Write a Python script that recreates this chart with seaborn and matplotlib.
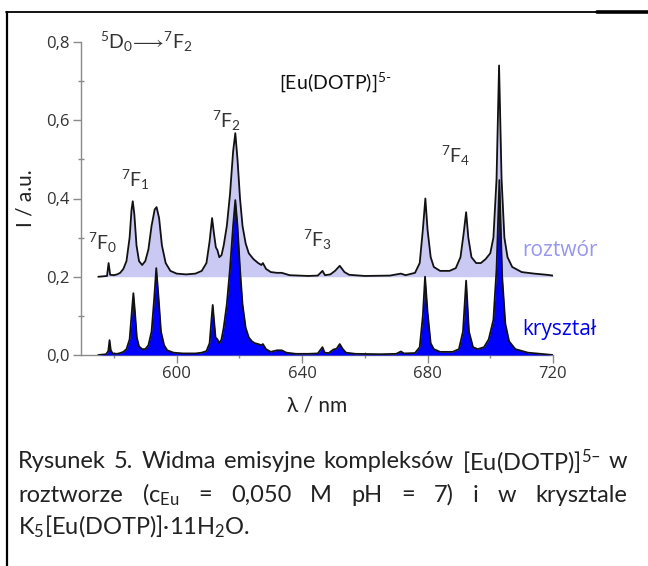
import numpy as np
import matplotlib
matplotlib.use("Agg")
import matplotlib.pyplot as plt
import seaborn as sns

# emission spectrum: crystal (baseline 0)
crystal_wl = [575, 577.5, 578.2, 578.6, 579.0, 579.6, 581, 582, 583, 584, 585, 585.7, 586.2, 586.7,
              587.3, 588, 589, 590, 591, 592, 592.8, 593.5, 594.2, 595, 596, 597, 599, 602, 606,
              608, 609.5, 610.5, 611.2, 611.5, 611.9, 612.4, 613, 613.6, 614.3, 615, 616, 617,
              618, 618.7, 619.4, 620.2, 621, 622, 623, 624, 625, 626, 627, 627.5, 628.5, 630,
              632, 633.5, 635, 638, 642, 645, 646.5, 647.2, 648.5, 650, 651, 652, 653, 654, 657,
              665, 670, 671.5, 672.5, 676, 677.5, 678.5, 679.2, 680, 681, 682, 684, 688, 690,
              691.3, 692.3, 693.2, 694.5, 696, 698, 699.5, 701, 702, 702.9, 703.8, 704.8, 706,
              708, 712, 716, 720]
crystal_int = [0.0, 0.002, 0.01, 0.038, 0.012, 0.004, 0.003, 0.005, 0.008, 0.015, 0.04, 0.11, 0.158,
               0.11, 0.045, 0.022, 0.015, 0.015, 0.025, 0.06, 0.14, 0.222, 0.15, 0.06, 0.025, 0.012,
               0.006, 0.004, 0.004, 0.006, 0.01, 0.03, 0.1, 0.128, 0.09, 0.045, 0.04, 0.03, 0.04,
               0.07, 0.13, 0.22, 0.33, 0.396, 0.33, 0.22, 0.13, 0.07, 0.045, 0.035, 0.03, 0.028,
               0.025, 0.028, 0.015, 0.008, 0.012, 0.012, 0.006, 0.003, 0.003, 0.004, 0.02, 0.006,
               0.005, 0.014, 0.016, 0.028, 0.015, 0.006, 0.003, 0.002, 0.003, 0.009, 0.004, 0.005,
               0.02, 0.1, 0.2, 0.11, 0.03, 0.015, 0.008, 0.008, 0.015, 0.06, 0.19, 0.06, 0.02,
               0.015, 0.02, 0.04, 0.09, 0.22, 0.447, 0.2, 0.08, 0.035, 0.015, 0.006, 0.003, 0.0]

# solution spectrum (drawn shifted up by 0.2)
solution_wl = [575, 577.8, 578.3, 578.8, 580, 581, 582, 583, 584, 585, 585.6, 586, 586.5, 587.2, 588,
               589, 590, 591, 592, 593, 593.6, 594.4, 595.3, 596.5, 598, 600, 603, 606, 608, 609.5,
               610.5, 611.3, 611.9, 612.5, 613, 613.6, 614.3, 615, 616, 617, 618, 618.7, 619.4,
               620.2, 621, 622, 623, 624.5, 626, 627, 627.5, 628.5, 630, 632, 633.5, 636, 642, 645,
               646.5, 647.3, 649, 650.5, 652, 653.5, 655, 660, 668, 671.5, 673, 676, 677.5, 678.5,
               679.3, 680, 681, 682, 684, 687, 689, 690.5, 691.5, 692.3, 693, 694, 695.5, 697,
               698.5, 700, 701, 702, 702.8, 703.6, 704.5, 705.5, 707, 710, 714, 718, 720]
solution_int = [0.0, 0.002, 0.035, 0.005, 0.004, 0.006, 0.01, 0.02, 0.04, 0.1, 0.17, 0.193, 0.16, 0.08,
                0.04, 0.03, 0.04, 0.07, 0.13, 0.172, 0.178, 0.15, 0.08, 0.035, 0.015, 0.008, 0.006,
                0.008, 0.015, 0.035, 0.09, 0.15, 0.11, 0.075, 0.068, 0.05, 0.055, 0.08, 0.13, 0.21,
                0.32, 0.367, 0.3, 0.2, 0.13, 0.085, 0.06, 0.045, 0.035, 0.03, 0.035, 0.02, 0.012,
                0.01, 0.01, 0.004, 0.002, 0.003, 0.015, 0.004, 0.006, 0.015, 0.028, 0.012, 0.005,
                0.002, 0.003, 0.008, 0.004, 0.01, 0.035, 0.12, 0.2, 0.12, 0.05, 0.025, 0.015, 0.015,
                0.022, 0.05, 0.11, 0.165, 0.1, 0.05, 0.035, 0.035, 0.045, 0.06, 0.1, 0.25, 0.54,
                0.25, 0.1, 0.05, 0.025, 0.012, 0.008, 0.005, 0.003]
solution_offset = 0.2

x_ticks = [600, 640, 680, 720]
x_minor = [580, 620, 660, 700]
y_ticks = [0.0, 0.2, 0.4, 0.6, 0.8]
y_tick_labels = ["0,0", "0,2", "0,4", "0,6", "0,8"]
y_minor = [0.1, 0.3, 0.5, 0.7]

peak_labels = [r"$^7$F$_0$", r"$^7$F$_1$", r"$^7$F$_2$", r"$^7$F$_3$", r"$^7$F$_4$"]
peak_label_pos = [(576.4, 0.286), (586.9, 0.447), (616.0, 0.598), (645.0, 0.294), (688.8, 0.51)]

sns.set_theme(style="white")
plt.rcParams["font.family"] = ["Lato", "DejaVu Sans"]
plt.rcParams["mathtext.fontset"] = "custom"
plt.rcParams["mathtext.rm"] = "Lato"
plt.rcParams["mathtext.it"] = "Lato:italic"
plt.rcParams["mathtext.bf"] = "Lato:bold"

W, H = 648, 566
fig = plt.figure(figsize=(W / 100, H / 100), dpi=100)
ax = fig.add_axes([81 / W, (H - 355) / H, 472 / W, 313 / H])

sol_y = np.array(solution_int) + solution_offset
ax.fill_between(solution_wl, solution_offset, sol_y, color="#c9c9f3", lw=0, zorder=1)
sns.lineplot(x=solution_wl, y=sol_y, ax=ax, color="#111111", lw=1.3, sort=False,
             estimator=None, zorder=2)
ax.fill_between(crystal_wl, 0, crystal_int, color="#0000ff", lw=0, zorder=3)
sns.lineplot(x=crystal_wl, y=crystal_int, ax=ax, color="#111111", lw=1.3, sort=False,
             estimator=None, zorder=4)

ax.set_xlim(569.5, 720)
ax.set_ylim(0, 0.8)
ax.set_xticks(x_ticks)
ax.set_xticks(x_minor, minor=True)
ax.set_yticks(y_ticks)
ax.set_yticklabels(y_tick_labels)
ax.set_yticks(y_minor, minor=True)
for s in ["top", "right"]:
    ax.spines[s].set_visible(False)
for s in ["left", "bottom"]:
    ax.spines[s].set_color("#8a8a8a")
    ax.spines[s].set_linewidth(1.0)
ax.tick_params(which="major", direction="out", length=6, width=1, color="#8a8a8a",
               labelsize=12, labelcolor="#333333", pad=2, left=True, bottom=True)
ax.tick_params(which="minor", direction="inout", length=5, width=1, color="#8a8a8a",
               left=True, bottom=True)
for lab in ax.get_xticklabels() + ax.get_yticklabels():
    lab.set_family(["Open Sans", "DejaVu Sans"])

ax.set_xlabel("λ / nm", fontsize=15, color="#222222", labelpad=10)
ax.set_ylabel("I / a.u.", fontsize=15, color="#222222", labelpad=8)

for lab, (px, py) in zip(peak_labels, peak_label_pos):
    ax.text(px, py, lab, fontsize=14, color="#333333", ha="center", va="center")
ax.text(575.4, 0.80, r"$^5$D$_0\!\longrightarrow\!^7$F$_2$", fontsize=14, color="#333333",
        ha="left", va="center")
ax.text(632.5, 0.697, r"[Eu(DOTP)]$^{5\text{-}}$", fontsize=14, color="#111111",
        ha="left", va="center")
ax.text(710.2, 0.268, "roztwór", fontsize=15, color="#9797ee", ha="left", va="center",
        family=["Open Sans", "DejaVu Sans"])
ax.text(710.2, 0.064, "kryształ", fontsize=15, color="#0000ee", ha="left", va="center",
        family=["Open Sans", "DejaVu Sans"])

# frame around the figure
fig.add_artist(plt.Line2D([7 / W, 7 / W], [0, (H - 12) / H], transform=fig.transFigure,
                          color="black", lw=1.6))
fig.add_artist(plt.Line2D([6 / W, 597 / W], [(H - 12) / H] * 2, transform=fig.transFigure,
                          color="black", lw=1.3))
fig.add_artist(plt.Line2D([597 / W, 1], [(H - 12) / H] * 2, transform=fig.transFigure,
                          color="black", lw=2.6))

# caption, justified like the source text
cap_lines = [
    ["Rysunek", "5.", "Widma", "emisyjne", "kompleksów", r"[Eu(DOTP)]$^{5–}$", "w"],
    ["roztworze", r"(c$_{\mathrm{Eu}}$", "=", "0,050", "M", "pH", "=", "7)", "i", "w", "krysztale"],
    [r"K$_5$[Eu(DOTP)]·11H$_2$O."],
]
cap_y = [462, 495, 527]
x_left, x_right = 18, 627
renderer = fig.canvas.get_renderer()
for words, yy in zip(cap_lines, cap_y):
    texts = [fig.text(0, (H - yy) / H, w, fontsize=17, color="#222222", va="center",
                      ha="left") for w in words]
    widths = [t.get_window_extent(renderer).width for t in texts]
    if len(words) > 1:
        gap = max((x_right - x_left - sum(widths)) / (len(words) - 1), 3)
    else:
        gap = 0
    pos = x_left
    for t, w in zip(texts, widths):
        t.set_x(pos / W)
        pos += w + gap

fig.savefig("out.png", dpi=100)
